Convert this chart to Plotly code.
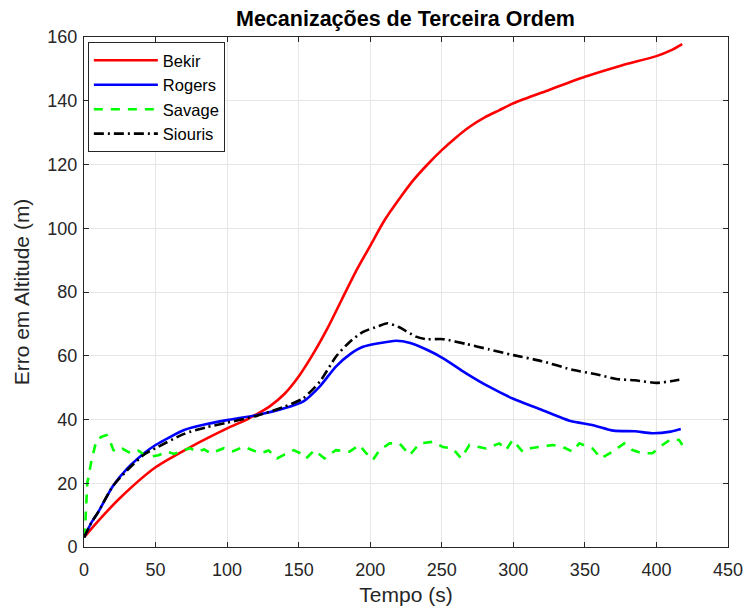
import plotly.graph_objects as go

# Bekir (red)
bekir_t = [0, 10, 25, 50, 75, 100, 115, 130, 140, 150, 160, 170, 180, 190, 200, 210, 220, 230, 240, 250, 260, 270, 280, 290, 300, 325, 350, 375, 400, 410, 418]
bekir_v = [3, 8.2, 15.3, 25, 31.5, 37.2, 40.3, 44.2, 48.0, 53.5, 60.5, 68.5, 77.5, 86.5, 94.5, 102.5, 109, 115, 120, 124.5, 128.5, 132, 134.8, 137, 139.2, 143.4, 147.5, 151, 154, 155.8, 157.8]

# Rogers (blue)
rogers_t = [0, 5, 10, 20, 30, 42, 50, 70, 85, 100, 121, 140, 153, 165, 176, 186, 195, 206, 218, 228, 240, 251, 267, 283, 300, 320, 340, 355, 370, 385, 397, 410, 417]
rogers_v = [3, 7.5, 11, 19, 24.5, 29.4, 32, 36.7, 38.5, 39.8, 41.4, 43.5, 45.6, 50.5, 56.6, 60.5, 62.8, 63.9, 64.7, 64, 61.8, 59.2, 54.5, 50.3, 46.5, 43, 39.5, 38.3, 36.5, 36.3, 35.7, 36.2, 37]

# Siouris (black)
siouris_t = [0, 5, 10, 20, 30, 42, 50, 70, 85, 100, 121, 140, 153, 165, 176, 186, 195, 206, 212, 220, 232, 239, 251, 267, 283, 300, 320, 342, 357, 372, 385, 400, 410, 418]
siouris_v = [3, 7.5, 11, 19, 24, 29, 31, 35.5, 37.5, 39, 41.2, 44, 46.6, 52, 59.7, 64.5, 67.5, 69.3, 70.2, 69, 66, 65.2, 65.2, 63.7, 62, 60.2, 58.3, 55.5, 54.3, 52.7, 52.3, 51.5, 52.0, 52.6]

# Savage (green)
savage_t = [0, 0.7, 2.3, 5.3, 8.8, 12, 15.8, 18, 20.5, 23.3, 27, 32.6, 38, 42, 46.5, 52, 58.1, 63, 69.8, 74, 79, 84, 88.4, 93, 97.7, 104, 111.6, 117, 123.3, 129, 134.9, 140, 146.5, 150.7, 155.3, 161, 168, 176, 185.5, 192.5, 197, 201.9, 206.5, 213.5, 220.5, 227.5, 234.5, 243.8, 250.7, 257.7, 263.5, 269.3, 275, 281, 290.3, 294.9, 299.5, 306.5, 312, 318.2, 327.5, 334.5, 341.4, 346.1, 355.4, 361.2, 369.3, 377.5, 383.3, 390.3, 397.2, 404.2, 410, 415.8, 418.1]
savage_v = [3, 5.3, 20, 27.3, 33.6, 34.5, 35.1, 33.5, 30.4, 29.9, 30.8, 29.4, 30.2, 29.0, 28.3, 28.8, 29.9, 29.2, 30.4, 31.0, 29.9, 30.6, 29.4, 30.2, 31.0, 30.0, 31.5, 30.5, 29.4, 30.3, 27.8, 29.0, 30.4, 29.5, 27.8, 30.4, 27.8, 30.4, 29.9, 32.0, 29.5, 27.3, 30.4, 32.5, 32.5, 28.8, 32.5, 33.0, 31.4, 30.9, 27.8, 32.0, 31.5, 30.9, 32.5, 30.4, 33.6, 29.9, 31.0, 31.4, 32.0, 31.4, 29.9, 32.5, 30.9, 27.8, 29.9, 32.5, 30.4, 29.4, 29.4, 32.0, 33.8, 33.6, 32.0]

x_ticks = [0, 50, 100, 150, 200, 250, 300, 350, 400, 450]
y_ticks = [0, 20, 40, 60, 80, 100, 120, 140, 160]

FONT = "Liberation Sans, Arial, Helvetica, sans-serif"
AX = "#262626"

fig = go.Figure()
fig.add_trace(go.Scatter(x=bekir_t, y=bekir_v, mode="lines", name="Bekir",
                         line=dict(color="#ff0000", width=2.6, shape="spline", smoothing=0.7)))
fig.add_trace(go.Scatter(x=rogers_t, y=rogers_v, mode="lines", name="Rogers",
                         line=dict(color="#0000ff", width=2.6, shape="spline", smoothing=0.6)))
fig.add_trace(go.Scatter(x=savage_t, y=savage_v, mode="lines", name="Savage",
                         line=dict(color="#00ff00", width=2.6, dash="9px,8px")))
fig.add_trace(go.Scatter(x=siouris_t, y=siouris_v, mode="lines", name="Siouris",
                         line=dict(color="#000000", width=2.6, dash="10px,4px,2px,4px", shape="spline", smoothing=0.6)))

axis_common = dict(
    showline=True, linecolor=AX, linewidth=1, mirror="ticks",
    ticks="inside", ticklen=5, tickcolor=AX, tickwidth=1,
    showgrid=True, gridcolor="#e6e6e6", gridwidth=1,
    zeroline=False, automargin=False,
    tickfont=dict(family=FONT, size=18, color=AX),
)

fig.update_layout(
    width=747, height=609,
    margin=dict(l=84, r=19, t=37, b=62, autoexpand=False),
    paper_bgcolor="white", plot_bgcolor="white",
    title=dict(text="<b>Mecanizações de Terceira Ordem</b>", x=405.5 / 747, xanchor="center",
               y=1 - 18 / 609, yanchor="middle",
               font=dict(family=FONT, size=21.5, color="#000000")),
    xaxis=dict(range=[0, 450], tickvals=x_ticks, ticktext=[str(v) for v in x_ticks],
               ticklabelstandoff=6,
               title=dict(text="Tempo (s)", font=dict(family=FONT, size=21, color=AX), standoff=8),
               **axis_common),
    yaxis=dict(range=[0, 160], tickvals=y_ticks, ticktext=[str(v) for v in y_ticks],
               ticklabelstandoff=2,
               title=dict(text="Erro em Altitude (m)", font=dict(family=FONT, size=21, color=AX), standoff=12),
               **axis_common),
    legend=dict(x=0.006, y=0.99, xanchor="left", yanchor="top",
                bgcolor="white", bordercolor=AX, borderwidth=1,
                font=dict(family=FONT, size=16.5, color="#000000"),
                itemwidth=64, tracegroupgap=0),
    showlegend=True,
)

fig.write_html("out.html")
